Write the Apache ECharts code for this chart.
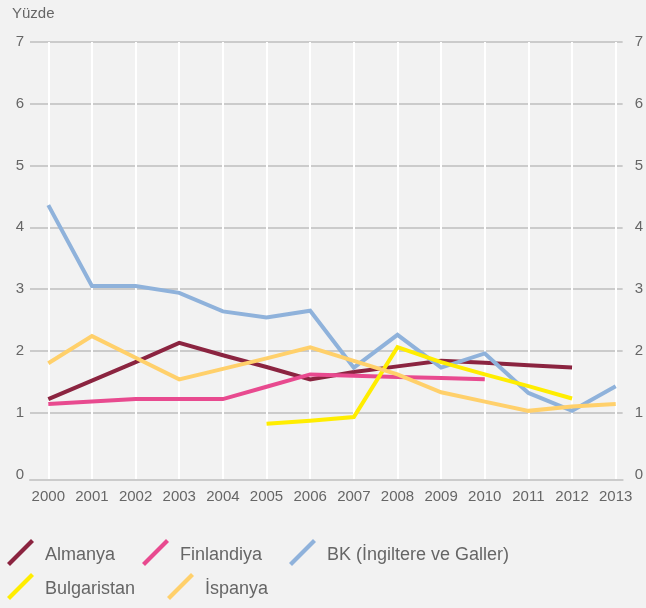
<!DOCTYPE html>
<html>
<head>
<meta charset="utf-8">
<script src="https://cdn.jsdelivr.net/npm/echarts@6/dist/echarts.min.js"></script>
<style>
  html, body { margin: 0; padding: 0; background: #f2f2f2; }
  #chart { width: 646px; height: 608px; }
</style>
</head>
<body>
<div id="chart"></div>
<script>
// Yıllar (x ekseni)
const years = ['2000','2001','2002','2003','2004','2005','2006','2007','2008','2009','2010','2011','2012','2013'];

// Ülke serileri (yüzde)
const almanya     = [1.22, 1.52, 1.82, 2.13, 1.93, 1.74, 1.54, 1.66, 1.75, 1.84, 1.81, 1.77, 1.73, null];
const finlandiya  = [1.14, 1.18, 1.22, 1.22, 1.22, 1.42, 1.62, 1.60, 1.58, 1.56, 1.54, null, null, null];
const bk          = [4.36, 3.05, 3.05, 2.94, 2.64, 2.54, 2.65, 1.73, 2.26, 1.73, 1.96, 1.32, 1.03, 1.43];
const bulgaristan = [null, null, null, null, null, 0.82, 0.87, 0.93, 2.06, 1.82, 1.62, 1.43, 1.23, null];
const ispanya     = [1.80, 2.24, 1.89, 1.54, 1.71, 1.88, 2.06, 1.84, 1.62, 1.33, 1.18, 1.03, 1.10, 1.14];

const seriesNames = ['Almanya', 'Finlandiya', 'BK (İngiltere ve Galler)', 'Bulgaristan', 'İspanya'];
const seriesColors = ['#8b2440', '#e84a8f', '#8fb2db', '#ffed00', '#ffd06b'];
const seriesData = [almanya, finlandiya, bk, bulgaristan, ispanya];

// Y ekseni: 0–7, birer adım
const yMin = 0, yMax = 7, yStep = 1;

const FONT = '"Liberation Sans", Arial, sans-serif';
const TEXT = '#666666';
const GRID_GRAY = '#cbcbcb';

// diagonal stroke used as legend marker; the trailing move-to keeps some
// empty room below the stroke so the label sits a little lower
const slashIcon = 'path://M0,24 L24,0 L27,3 L3,27 Z M0,33';

function legendAt(name, left, top) {
  return {
    data: [name],
    left: left, top: top,
    icon: slashIcon,
    itemWidth: 27, itemHeight: 33,
    padding: 0,
    selectedMode: false,
    textStyle: { fontFamily: FONT, fontSize: 18, color: TEXT, padding: [0, 0, 0, 6] }
  };
}

const chart = echarts.init(document.getElementById('chart'), null, { renderer: 'canvas' });

chart.setOption({
  backgroundColor: '#f2f2f2',
  animation: false,
  title: {
    text: 'Yüzde',
    left: 7, top: 1,
    textStyle: { fontFamily: FONT, fontSize: 15, fontWeight: 'normal', color: TEXT }
  },
  legend: [
    legendAt(seriesNames[0], 7, 539),
    legendAt(seriesNames[1], 142, 539),
    legendAt(seriesNames[2], 289, 539),
    legendAt(seriesNames[3], 7, 573),
    legendAt(seriesNames[4], 167, 573)
  ],
  grid: [
    // wide frame carrying the horizontal gridlines and both value scales
    { left: 30, right: 20, top: 42, bottom: 133.5 },
    // plotting area for the yearly series
    { left: 48.3, right: 30.3, top: 42, bottom: 128 }
  ],
  xAxis: [
    {
      type: 'value', gridIndex: 0, min: 0, max: 1,
      offset: 5.5,
      axisLine: { show: true, onZero: false, lineStyle: { color: GRID_GRAY, width: 2 } },
      axisTick: { show: false }, axisLabel: { show: false }, splitLine: { show: false }
    },
    {
      type: 'category', gridIndex: 1, data: years, boundaryGap: false,
      axisLine: { show: false }, axisTick: { show: false },
      axisLabel: { fontFamily: FONT, fontSize: 15, color: TEXT, margin: 9 },
      splitLine: { show: true, lineStyle: { color: '#ffffff', width: 2 } }
    }
  ],
  yAxis: [
    {
      type: 'value', gridIndex: 0, position: 'left',
      min: yMin, max: yMax, interval: yStep,
      axisLine: { show: false }, axisTick: { show: false },
      axisLabel: { fontFamily: FONT, fontSize: 15, color: TEXT, margin: 6 },
      splitLine: { show: true, showMinLine: false, lineStyle: { color: GRID_GRAY, width: 2 } }
    },
    {
      type: 'value', gridIndex: 0, position: 'right',
      min: yMin, max: yMax, interval: yStep,
      axisLine: { show: false }, axisTick: { show: false },
      axisLabel: { fontFamily: FONT, fontSize: 15, color: TEXT, margin: 12 },
      splitLine: { show: false }
    },
    {
      // same scale as the labelled axes; lower bound reaches the drawn baseline
      type: 'value', gridIndex: 1,
      min: -0.089, max: yMax,
      show: false, splitLine: { show: false }
    }
  ],
  series: seriesNames.map((name, i) => ({
    name: name,
    type: 'line',
    xAxisIndex: 1,
    yAxisIndex: 2,
    data: seriesData[i],
    showSymbol: false,
    symbol: 'none',
    connectNulls: false,
    color: seriesColors[i],
    lineStyle: { color: seriesColors[i], width: 4, cap: 'butt', join: 'miter' },
    z: 3 + i
  }))
});
</script>
</body>
</html>
